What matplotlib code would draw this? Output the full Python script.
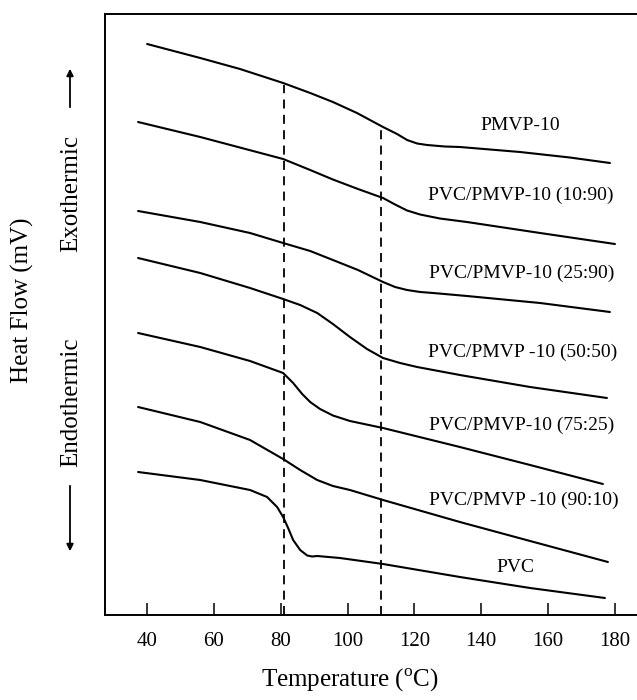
import matplotlib
matplotlib.use("Agg")
import matplotlib.pyplot as plt
from matplotlib.patches import FancyArrowPatch

plt.rcParams['font.family'] = ['Liberation Serif', 'DejaVu Serif']
plt.rcParams['mathtext.fontset'] = 'custom'
plt.rcParams['mathtext.rm'] = 'Liberation Serif'

# DSC traces (temperature in C, heat flow in arbitrary offset units)
pmvp_t = [40.0, 55.9, 67.8, 80.7, 88.8, 95.6, 102.8, 110.6, 114.8, 117.8, 120.8, 123.8, 129.1, 133.6, 151.6, 166.5, 178.5]
pmvp_y = [57.1, 55.7, 54.6, 53.2, 52.2, 51.3, 50.2, 48.8, 48.1, 47.5, 47.15, 47.0, 46.85, 46.8, 46.3, 45.75, 45.2]

b1090_t = [37.3, 55.9, 80.7, 88.8, 95.6, 103.1, 110.6, 114.2, 117.8, 121.7, 127.6, 135.7, 157.6, 180.0]
b1090_y = [49.3, 47.8, 45.6, 44.5, 43.55, 42.6, 41.7, 41.05, 40.45, 40.05, 39.65, 39.3, 38.2, 37.1]

b2590_t = [37.3, 55.9, 70.8, 80.7, 88.8, 95.6, 103.1, 110.6, 114.2, 117.8, 121.7, 125.6, 135.7, 157.6, 178.5]
b2590_y = [40.4, 39.3, 38.2, 37.2, 36.4, 35.5, 34.5, 33.3, 32.8, 32.5, 32.3, 32.2, 31.9, 31.2, 30.3]

b5050_t = [37.3, 55.9, 70.8, 80.7, 85.8, 90.9, 95.6, 100.7, 105.8, 110.6, 115.7, 120.8, 133.6, 154.6, 177.6]
b5050_y = [35.7, 34.2, 32.7, 31.6, 31.0, 30.2, 29.1, 27.8, 26.6, 25.7, 25.2, 24.8, 24.0, 22.8, 21.7]

b7525_t = [37.3, 55.9, 70.8, 80.7, 83.7, 86.4, 88.8, 91.75, 95.6, 100.7, 110.6, 133.6, 154.6, 176.4]
b7525_y = [28.2, 26.8, 25.4, 24.2, 23.2, 22.1, 21.3, 20.6, 19.95, 19.4, 18.7, 16.8, 15.0, 13.1]

b9010_t = [37.3, 55.9, 70.8, 80.7, 85.8, 90.9, 95.6, 100.7, 110.6, 133.6, 154.6, 177.9]
b9010_y = [20.8, 19.3, 17.5, 15.6, 14.5, 13.5, 12.9, 12.5, 11.5, 9.3, 7.4, 5.3]

pvc_t = [37.3, 55.9, 70.8, 75.9, 78.9, 80.7, 82.2, 83.7, 85.8, 87.9, 89.4, 90.9, 97.7, 110.6, 133.6, 154.6, 177.0]
pvc_y = [14.3, 13.5, 12.5, 11.8, 10.8, 9.8, 8.7, 7.5, 6.5, 5.95, 5.85, 5.9, 5.7, 5.1, 3.8, 2.7, 1.7]

curves = [
    (pmvp_t, pmvp_y, "PMVP-10", 151.6, 49.0),
    (b1090_t, b1090_y, "PVC/PMVP-10 (10:90)", 151.8, 42.0),
    (b2590_t, b2590_y, "PVC/PMVP-10 (25:90)", 152.2, 34.2),
    (b5050_t, b5050_y, "PVC/PMVP -10 (50:50)", 152.5, 26.3),
    (b7525_t, b7525_y, "PVC/PMVP-10 (75:25)", 152.2, 19.0),
    (b9010_t, b9010_y, "PVC/PMVP -10 (90:10)", 152.8, 11.5),
    (pvc_t, pvc_y, "PVC", 150.1, 4.8),
]

tg_lines = [81, 110]
tg_tops = [53.0, 48.8]
xticks = [40, 60, 80, 100, 120, 140, 160, 180]

fig = plt.figure(figsize=(6.37, 7.0), dpi=100)
ax = fig.add_axes([105/637, 85/700, 532/637, 601/700])

for t, y, name, lx, ly in curves:
    ax.plot(t, y, color='black', lw=1.5, solid_joinstyle='round', solid_capstyle='round')
    ax.text(lx, ly, name, ha='center', va='center', fontsize=14)

for x, top in zip(tg_lines, tg_tops):
    ax.plot([x, x], [0, top], color='black', lw=1.3, linestyle=(0, (5, 3.5)))

ax.set_xlim(27.4, 186.6)
ax.set_ylim(0, 60.1)
ax.set_xticks(xticks)
ax.set_yticks([])
ax.tick_params(axis='x', direction='in', length=8.5, width=1.1, pad=12, labelsize=15)
ax.spines['right'].set_visible(False)
for s in ['left', 'top', 'bottom']:
    ax.spines[s].set_linewidth(1.4)

fig.text(350/637, 1 - 680/700, r'Temperature ($^{\rm o}$C)', ha='center', va='center', fontsize=18)
fig.text(22/637, 1 - 300/700, 'Heat Flow (mV)', rotation=90, ha='center', va='center', fontsize=18)
fig.text(71/637, 1 - 194/700, 'Exothermic', rotation=90, ha='center', va='center', fontsize=18)
fig.text(71/637, 1 - 402/700, 'Endothermic', rotation=90, ha='center', va='center', fontsize=18)

arrow = dict(arrowstyle='-|>', color='black', lw=1.3, mutation_scale=10)
fig.add_artist(FancyArrowPatch((70/637, 1 - 110/700), (70/637, 1 - 66/700),
                               transform=fig.transFigure, **arrow))
fig.add_artist(FancyArrowPatch((70/637, 1 - 483/700), (70/637, 1 - 554/700),
                               transform=fig.transFigure, **arrow))

fig.savefig("out.png", dpi=100)
